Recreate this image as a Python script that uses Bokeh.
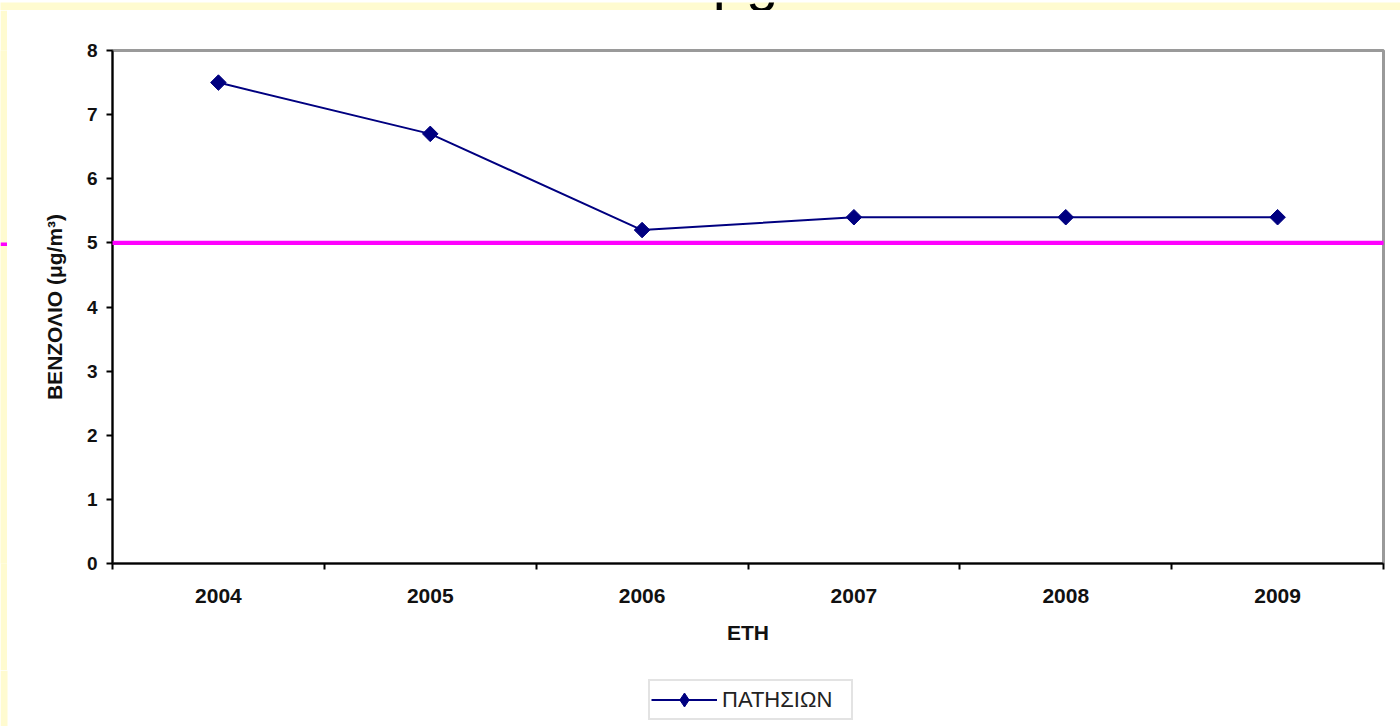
from bokeh.plotting import figure
from bokeh.layouts import column, row
from bokeh.models import (Range1d, FixedTicker, BoxAnnotation, Label, Legend,
                          LegendItem)
from bokeh.embed import file_html
from bokeh.resources import INLINE
import numpy as np

# Annual mean benzene concentration, Patission station
years = ["2004", "2005", "2006", "2007", "2008", "2009"]
benzene = [7.5, 6.7, 5.2, 5.4, 5.4, 5.4]
series_name = "ΠΑΤΗΣΙΩΝ"
limit_value = 5
y_ticks = [0, 1, 2, 3, 4, 5, 6, 7, 8]

W, H = 1400, 726
TOP_H = 10          # yellow page band with the heading
STRIP_W = 7         # yellow page band on the left
STRIP_SHIFT = 17    # vertical offset of the left band's scale, in pixels
LEGEND_H = 56
MAIN_H = H - TOP_H - LEGEND_H
MAIN_W = W - STRIP_W
BORDER_L, BORDER_R, BORDER_T, BORDER_B = 105, 17, 40, 107
Y_MAX = 8
FONT = "Liberation Sans"
NAVY = "#000080"
PAGE_YELLOW = "#FFFBD0"
MAGENTA = "#FF00FF"
LIMIT_HALF = 0.035   # half thickness of the limit band, in data units

PX_PER_UNIT = (MAIN_H - BORDER_T - BORDER_B) / Y_MAX


def y_at_px(py):
    """data value at a vertical pixel of the main figure (0 = its top)"""
    return Y_MAX + (BORDER_T - py) / PX_PER_UNIT


def bare_figure(width, height, fill, x_range, y_range):
    fig = figure(width=width, height=height, output_backend="svg",
                 toolbar_location=None, title=None,
                 x_axis_location=None, y_axis_location=None,
                 x_range=x_range, y_range=y_range,
                 min_border=0, min_border_left=0, min_border_right=0,
                 min_border_top=0, min_border_bottom=0)
    fig.background_fill_color = fill
    fig.border_fill_color = fill
    fig.outline_line_color = None
    fig.grid.visible = False
    return fig


# ---- heading band --------------------------------------------------------
p_top = bare_figure(W, TOP_H, PAGE_YELLOW, Range1d(0, W), Range1d(0, TOP_H))
p_top.add_layout(Label(x=745, y=1, text="μg", text_align="center",
                       text_baseline="bottom", text_font=FONT,
                       text_font_size="58px", text_color="black"))

# ---- left page band, carrying the limit line ------------------------------
p_strip = bare_figure(STRIP_W, MAIN_H, PAGE_YELLOW, Range1d(0, STRIP_W),
                      Range1d(y_at_px(MAIN_H - STRIP_SHIFT),
                              y_at_px(-STRIP_SHIFT)))
p_strip.add_layout(BoxAnnotation(bottom=limit_value - LIMIT_HALF,
                                 top=limit_value + LIMIT_HALF,
                                 fill_color=MAGENTA, fill_alpha=1,
                                 line_color=None))

# ---- main chart -----------------------------------------------------------
x_pos = [i + 0.5 for i in range(len(years))]

p = figure(width=MAIN_W, height=MAIN_H, output_backend="svg",
           toolbar_location=None,
           x_range=Range1d(0, len(years)), y_range=Range1d(0, Y_MAX),
           min_border_left=BORDER_L, min_border_right=BORDER_R,
           min_border_top=BORDER_T, min_border_bottom=BORDER_B)
p.background_fill_color = "white"
p.border_fill_color = "white"
p.outline_line_color = "#9a9a9a"
p.outline_line_width = 3
p.grid.visible = False

xa = p.xaxis[0]
xa.ticker = FixedTicker(ticks=x_pos, minor_ticks=list(range(len(years) + 1)))
xa.major_label_overrides = {x: y for x, y in zip(x_pos, years)}
xa.major_tick_in = 0
xa.major_tick_out = 0
xa.minor_tick_in = 0
xa.minor_tick_out = 6
xa.minor_tick_line_width = 2
xa.minor_tick_line_color = "black"
xa.axis_line_width = 2
xa.axis_line_color = "black"
xa.major_label_text_font = FONT
xa.major_label_text_font_style = "bold"
xa.major_label_text_font_size = "21px"
xa.major_label_text_color = "#111111"
xa.major_label_standoff = 19
xa.axis_label = "ΕΤΗ"
xa.axis_label_text_font = FONT
xa.axis_label_text_font_style = "bold"
xa.axis_label_text_font_size = "21px"
xa.axis_label_text_color = "#111111"
xa.axis_label_standoff = 15

ya = p.yaxis[0]
ya.ticker = FixedTicker(ticks=y_ticks, minor_ticks=[])
ya.major_tick_in = 0
ya.major_tick_out = 6
ya.major_tick_line_width = 2
ya.axis_line_width = 2
ya.axis_line_color = "black"
ya.major_label_text_font = FONT
ya.major_label_text_font_style = "bold"
ya.major_label_text_font_size = "19px"
ya.major_label_text_color = "#111111"
ya.major_label_standoff = 9
ya.axis_label = "ΒΕΝΖΟΛΙΟ (μg/m³)"
ya.axis_label_text_font = FONT
ya.axis_label_text_font_style = "bold"
ya.axis_label_text_font_size = "21px"
ya.axis_label_text_color = "#111111"
ya.axis_label_standoff = 18

r_line = p.line(x_pos, benzene, line_color=NAVY, line_width=2)
r_mark = p.scatter(x_pos, benzene, marker="square", angle=np.pi / 4, size=11,
                   fill_color=NAVY, line_color=NAVY)

# limit value, drawn across the whole width
p.add_layout(BoxAnnotation(left=0, right=MAIN_W, left_units="canvas",
                           right_units="canvas",
                           bottom=limit_value - LIMIT_HALF,
                           top=limit_value + LIMIT_HALF,
                           fill_color=MAGENTA, fill_alpha=1, line_color=None,
                           level="overlay"))

# ---- legend band ----------------------------------------------------------
# the series is repeated here outside the visible ranges so the legend can
# show its glyph
p_leg = bare_figure(W, LEGEND_H, "white", Range1d(100, 101),
                    Range1d(100, 101))
p_leg.add_layout(BoxAnnotation(left=0, right=STRIP_W, left_units="canvas",
                               right_units="canvas", fill_color=PAGE_YELLOW,
                               fill_alpha=1, line_color=None))
l_line = p_leg.line(x_pos, benzene, line_color=NAVY, line_width=2)
l_mark = p_leg.scatter(x_pos, benzene, marker="diamond", size=16,
                       fill_color=NAVY, line_color=NAVY)
legend = Legend(items=[LegendItem(label=series_name,
                                  renderers=[l_line, l_mark])],
                location=(648, 6), orientation="horizontal",
                glyph_width=66, glyph_height=35, label_standoff=5,
                label_width=128, padding=1, spacing=0, margin=0,
                label_text_font=FONT, label_text_font_size="22px",
                label_text_color="#222222",
                border_line_color="#c8c8c8", border_line_width=2,
                background_fill_color="white")
p_leg.add_layout(legend)

layout = column(p_top, row(p_strip, p, spacing=0), p_leg, spacing=0)
open("out.html", "w").write(file_html(layout, INLINE))
